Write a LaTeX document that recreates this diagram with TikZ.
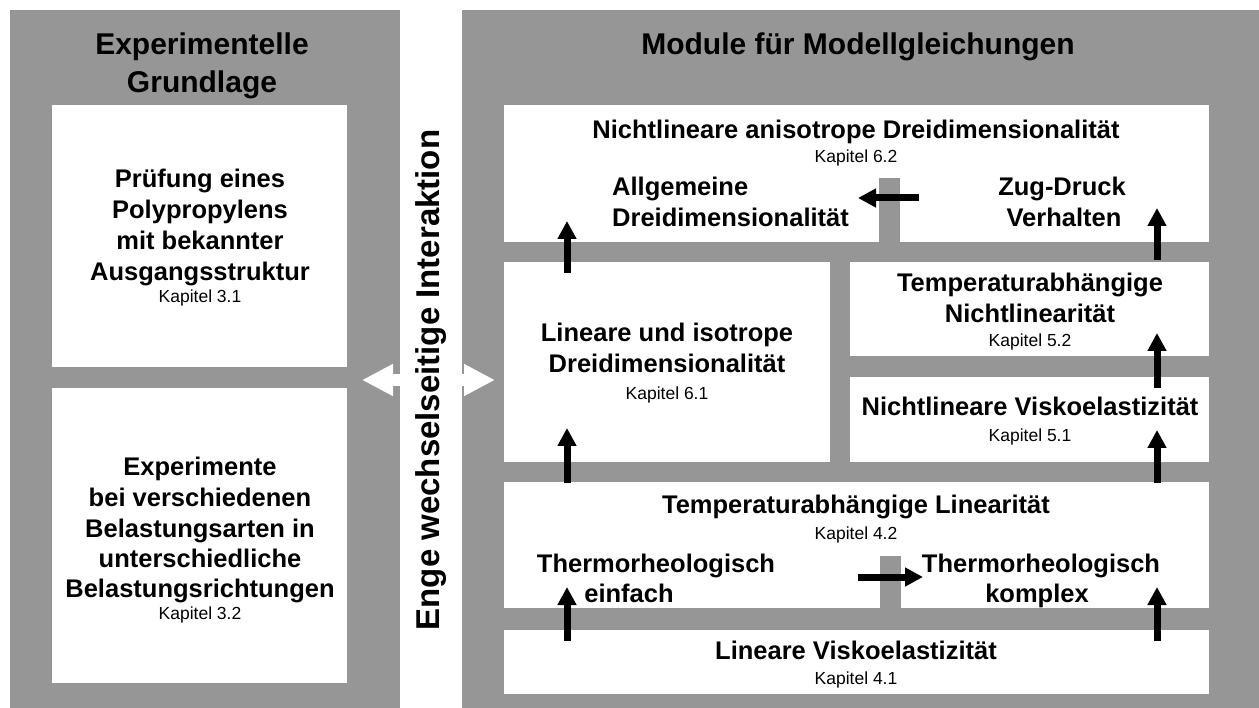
\documentclass[tikz,border=0pt]{standalone}
\usepackage{fontspec}
\setmainfont{Liberation Sans}
\usetikzlibrary{arrows.meta,fit}
\definecolor{pgray}{RGB}{150,150,150}
\begin{document}
\begin{tikzpicture}[x=1pt,y=-1pt,
  panel/.style={fill=pgray,draw=none,inner sep=0,outer sep=0},
  box/.style={fill=white,draw=none,inner sep=0,outer sep=0},
  ttl/.style={font=\fontsize{30}{38}\selectfont\bfseries,anchor=base,inner sep=0},
  bt/.style={font=\fontsize{25.5}{31}\selectfont\bfseries,anchor=base,inner sep=0},
  kap/.style={font=\fontsize{17.5}{21}\selectfont,anchor=base,inner sep=0},
  vtxt/.style={rotate=90,font=\fontsize{33}{38}\selectfont\bfseries,inner sep=0},
  arr/.style={line width=7pt,-{Triangle[width=18pt,length=18pt]}},
  warr/.style={white,line width=12pt,{Triangle[width=30pt,length=31pt]}-{Triangle[width=30pt,length=31pt]}},
]
\useasboundingbox (0,0) rectangle (1259,708);
\fill[white] (0,0) rectangle (1259,708);
% panels
\node[panel,fit={(10,10)(400,708)}] (lp) {};
\node[panel,fit={(462,10)(1259,708)}] (rp) {};
% left boxes
\node[box,fit={(52,105)(347,367)}] (b1) {};
\node[box,fit={(52,388)(347,683)}] (b2) {};
% right boxes
\node[box,fit={(504,105)(1209,242)}] (top) {};
\node[box,fit={(504,262)(830,462)}] (iso) {};
\node[box,fit={(850,262)(1209,356)}] (tnl) {};
\node[box,fit={(850,377)(1209,462)}] (nlvis) {};
\node[box,fit={(504,482)(1209,608)}] (templin) {};
\node[box,fit={(504,630)(1209,694)}] (linvis) {};
% gray separators inside boxes
\node[panel,fit={(879,178)(900,242)}] (bar1) {};
\node[panel,fit={(880,556)(901,608)}] (bar2) {};

% titles
\node[ttl] (t1a) at (202,55) {Experimentelle};
\node[ttl] (t1b) at (202,93) {Grundlage};
\node[ttl] (t2) at (858,55) {Module für Modellgleichungen};

% left box texts
\node[bt] (l1) at (200,188) {Prüfung eines};
\node[bt] (l2) at (200,219) {Polypropylens};
\node[bt] (l3) at (200,250) {mit bekannter};
\node[bt] (l4) at (200,281) {Ausgangsstruktur};
\node[kap] (l5) at (200,303) {Kapitel 3.1};
\node[bt] (m1) at (200,476) {Experimente};
\node[bt] (m2) at (200,507) {bei verschiedenen};
\node[bt] (m3) at (200,537) {Belastungsarten in};
\node[bt] (m4) at (200,567) {unterschiedliche};
\node[bt] (m5) at (200,597) {Belastungsrichtungen};
\node[kap] (m6) at (200,619) {Kapitel 3.2};

% top box
\node[bt] (n1) at (856,139) {Nichtlineare anisotrope Dreidimensionalität};
\node[kap] (n2) at (856,163) {Kapitel 6.2};
\node[bt,anchor=base west] (a1) at (612,196) {Allgemeine};
\node[bt,anchor=base west] (a2) at (612,227) {Dreidimensionalität};
\node[bt] (z1) at (1062,196) {Zug-Druck};
\node[bt] (z2) at (1064,227) {Verhalten};

% iso
\node[bt] (i1) at (667,342) {Lineare und isotrope};
\node[bt] (i2) at (667,373) {Dreidimensionalität};
\node[kap] (i3) at (667,400) {Kapitel 6.1};

% tnl
\node[bt] (p1) at (1030,292) {Temperaturabhängige};
\node[bt] (p2) at (1030,323) {Nichtlinearität};
\node[kap] (p3) at (1030,347) {Kapitel 5.2};

% nlvis
\node[bt] (q1) at (1030,416) {Nichtlineare Viskoelastizität};
\node[kap] (q2) at (1030,442) {Kapitel 5.1};

% templin
\node[bt] (r1) at (856,514) {Temperaturabhängige Linearität};
\node[kap] (r2) at (856,539) {Kapitel 4.2};
\node[bt] (e1) at (656,572) {Thermorheologisch};
\node[bt] (e2) at (629,602) {einfach};
\node[bt] (k1) at (1041,572) {Thermorheologisch};
\node[bt] (k2) at (1037,602) {komplex};

% linvis
\node[bt] (s1) at (856,659) {Lineare Viskoelastizität};
\node[kap] (s2) at (856,684) {Kapitel 4.1};

% interaction arrow and text
\coordinate (vc) at (431,380);
\draw[warr] ([xshift=-38pt]lp.east |- vc) -- ([xshift=33pt]rp.west |- vc);
\node[vtxt] (vt) at (vc) {Enge wechselseitige Interaktion};

% arrows
\coordinate (xl) at (567,0);
\coordinate (xr) at (1157,0);
\draw[arr] ([yshift=-11pt]iso.north -| xl) -- ([yshift=21pt]top.south -| xl);
\draw[arr] ([yshift=-1pt]templin.north -| xl) -- ([yshift=34pt]iso.south -| xl);
\draw[arr] ([yshift=-11pt]linvis.north -| xl) -- ([yshift=21pt]templin.south -| xl);
\draw[arr] ([yshift=-11pt]linvis.north -| xr) -- ([yshift=21pt]templin.south -| xr);
\draw[arr] ([yshift=-1pt]templin.north -| xr) -- ([yshift=32pt]nlvis.south -| xr);
\draw[arr] ([yshift=-11pt]nlvis.north -| xr) -- ([yshift=23pt]tnl.south -| xr);
\draw[arr] ([yshift=2pt]tnl.north -| xr) -- ([yshift=34pt]top.south -| xr);
\coordinate (h1s) at (919,198);
\coordinate (h1e) at (858,198);
\draw[arr] (h1s) -- (h1e);
\coordinate (h2s) at (858,577);
\coordinate (h2e) at (923,577);
\draw[arr] (h2s) -- (h2e);
\end{tikzpicture}
\end{document}
